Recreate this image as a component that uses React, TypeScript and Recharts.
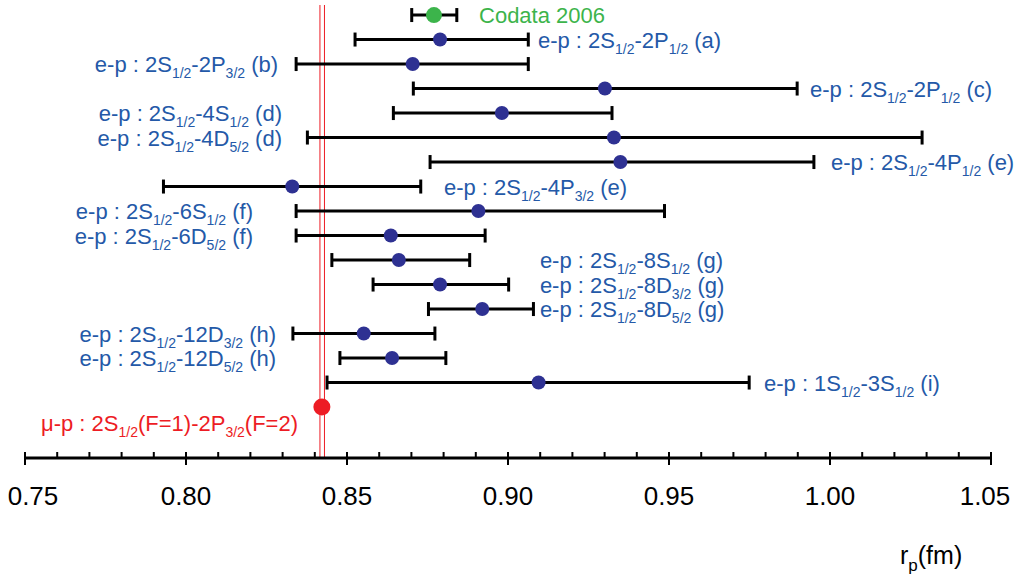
import React from "react";
import { ScatterChart, Scatter, XAxis, YAxis, ErrorBar, ReferenceLine } from "recharts";

// x axis (fm)
const majorTicks = [0.75, 0.8, 0.85, 0.9, 0.95, 1.0, 1.05];
const allTicks = Array.from({ length: 31 }, (_, i) => Math.round((0.75 + i * 0.01) * 100) / 100);

// CODATA 2006
const codataNames = ["Codata 2006"];
const codataValue = [0.877];
const codataLow = [0.8701];
const codataHigh = [0.8841];

// e-p measurements, top to bottom
const epNames = [
  "e-p : 2S_{1/2}-2P_{1/2} (a)",
  "e-p : 2S_{1/2}-2P_{3/2} (b)",
  "e-p : 2S_{1/2}-2P_{1/2} (c)",
  "e-p : 2S_{1/2}-4S_{1/2} (d)",
  "e-p : 2S_{1/2}-4D_{5/2} (d)",
  "e-p : 2S_{1/2}-4P_{1/2} (e)",
  "e-p : 2S_{1/2}-4P_{3/2} (e)",
  "e-p : 2S_{1/2}-6S_{1/2} (f)",
  "e-p : 2S_{1/2}-6D_{5/2} (f)",
  "e-p : 2S_{1/2}-8S_{1/2} (g)",
  "e-p : 2S_{1/2}-8D_{3/2} (g)",
  "e-p : 2S_{1/2}-8D_{5/2} (g)",
  "e-p : 2S_{1/2}-12D_{3/2} (h)",
  "e-p : 2S_{1/2}-12D_{5/2} (h)",
  "e-p : 1S_{1/2}-3S_{1/2} (i)",
];
const epValue = [0.8789, 0.8704, 0.9301, 0.8981, 0.9329, 0.9349, 0.833, 0.8908, 0.8636, 0.8661, 0.8789, 0.892, 0.8552, 0.864, 0.9095];
const epLow = [0.8525, 0.8342, 0.8706, 0.8644, 0.8377, 0.8758, 0.793, 0.8342, 0.8342, 0.8453, 0.8581, 0.8753, 0.8332, 0.8478, 0.8438];
const epHigh = [0.9063, 0.9063, 0.9898, 0.9323, 1.0286, 0.995, 0.8729, 0.9486, 0.8929, 0.8881, 0.9002, 0.9079, 0.8773, 0.8807, 0.9749];

// muonic hydrogen
const muNames = ["\u03bc-p : 2S_{1/2}(F=1)-2P_{3/2}(F=2)"];
const muValue = [0.8422];
const muBand = [0.8416, 0.843];

// where each label sits (fm), "L" = right-aligned ending there, "R" = starting there
const codataLabelAt = [0.891];
const epLabelAt = [0.9093, 0.8286, 0.9938, 0.8298, 0.8298, 1.0003, 0.8801, 0.8208, 0.8208, 0.9099, 0.9099, 0.9099, 0.828, 0.828, 0.9795];
const epLabelSide = ["R", "L", "R", "L", "L", "R", "R", "L", "L", "R", "R", "R", "L", "L", "R"];
const muLabelAt = [0.8348];

const BLUE_DOT = "#2e3192";
const BLUE_TEXT = "#2459a8";
const GREEN = "#3cb44b";
const RED = "#ed1c24";
const FONT = "'Liberation Sans', Arial, Helvetica, sans-serif";

const codataData = codataValue.map((v, i) => ({ x: v, y: 0, err: [v - codataLow[i], codataHigh[i] - v] }));
const epData = epValue.map((v, i) => ({ x: v, y: i + 1, err: [v - epLow[i], epHigh[i] - v] }));
const muData = muValue.map((v) => ({ x: v, y: 16 }));

const labelData = [
  ...codataNames.map((t, i) => ({ x: codataLabelAt[i], y: 0, text: t, side: "R", color: GREEN, dy: 0 })),
  ...epNames.map((t, i) => ({ x: epLabelAt[i], y: i + 1, text: t, side: epLabelSide[i], color: BLUE_TEXT, dy: 0 })),
  ...muNames.map((t, i) => ({ x: muLabelAt[i], y: 16, text: t, side: "L", color: RED, dy: 16 })),
];

function parts(text: string) {
  const out: { s: string; sub: boolean }[] = [];
  const re = /_\{([^}]*)\}/g;
  let last = 0;
  let m;
  while ((m = re.exec(text))) {
    if (m.index > last) out.push({ s: text.slice(last, m.index), sub: false });
    out.push({ s: m[1], sub: true });
    last = m.index + m[0].length;
  }
  if (last < text.length) out.push({ s: text.slice(last), sub: false });
  return out;
}

function RichText({ x, y, text, anchor, color, size, subSize }: any) {
  const ps = parts(text);
  let shifted = false;
  return (
    <text x={x} y={y} textAnchor={anchor} fill={color} fontSize={size} fontFamily={FONT}>
      {ps.map((p, i) => {
        let dy = 0;
        if (p.sub && !shifted) { dy = 6; shifted = true; }
        else if (!p.sub && shifted) { dy = -6; shifted = false; }
        return (
          <tspan key={i} dy={dy} fontSize={p.sub ? subSize : size}>
            {p.s}
          </tspan>
        );
      })}
    </text>
  );
}

const LabelShape = (props: any) => {
  const { cx, cy, payload } = props;
  return (
    <RichText
      x={cx}
      y={cy + 8 + payload.dy}
      text={payload.text}
      anchor={payload.side === "L" ? "end" : "start"}
      color={payload.color}
      size={22}
      subSize={14}
    />
  );
};

const dot = (color: string, r: number) => (props: any) => (
  <circle cx={props.cx} cy={props.cy} r={r} fill={color} />
);

function AxisTick(props: any) {
  const { x, y, payload } = props;
  const v = Math.round(payload.value * 100) / 100;
  const major = majorTicks.includes(v);
  // end labels sit a little inside the axis ends
  const nudge = v === majorTicks[0] ? 8 : v === majorTicks[majorTicks.length - 1] ? -6 : 0;
  return (
    <g>
      <line x1={x} x2={x} y1={y - 6} y2={major ? y + 7 : y} stroke="#000" strokeWidth={2} />
      {major && (
        <text x={x + nudge} y={y + 47} textAnchor="middle" fontSize={26} fontFamily={FONT} fill="#000">
          {v.toFixed(2)}
        </text>
      )}
    </g>
  );
}

function AxisTitle(props: any) {
  const vb = props.viewBox || { x: 25, y: 458, width: 966 };
  const x = vb.x + vb.width - 91;
  const y = vb.y + 106;
  return (
    <text x={x} y={y} fontSize={25} fontFamily={FONT} fill="#000">
      r<tspan fontSize={17} dy={7}>p</tspan>
      <tspan dy={-7}>(fm)</tspan>
    </text>
  );
}

export default function App() {
  return (
    <div style={{ position: "absolute", left: 0, top: 0, background: "#fff" }}>
      <ScatterChart width={1029} height={581} margin={{ top: 5, right: 38, left: 25, bottom: 0 }}>
        <XAxis
          type="number"
          dataKey="x"
          domain={[0.75, 1.05]}
          ticks={allTicks}
          interval={0}
          tick={<AxisTick />}
          tickLine={false}
          tickSize={0}
          tickMargin={0}
          axisLine={{ stroke: "#000", strokeWidth: 3 }}
          height={123}
          label={{ content: (p: any) => <AxisTitle {...p} /> }}
        />
        <YAxis type="number" dataKey="y" domain={[-0.41, 18.08]} reversed hide />
        <ReferenceLine x={muBand[0]} stroke={RED} strokeWidth={1} />
        <ReferenceLine x={muBand[1]} stroke={RED} strokeWidth={1} />
        <Scatter data={epData} shape={dot(BLUE_DOT, 7)} isAnimationActive={false}>
          <ErrorBar dataKey="err" direction="x" width={7} stroke="#000" strokeWidth={3} />
        </Scatter>
        <Scatter data={codataData} shape={dot(GREEN, 8)} isAnimationActive={false}>
          <ErrorBar dataKey="err" direction="x" width={7} stroke="#000" strokeWidth={3} />
        </Scatter>
        <Scatter data={muData} shape={dot(RED, 8.5)} isAnimationActive={false} />
        <Scatter data={labelData} shape={LabelShape} isAnimationActive={false} />
      </ScatterChart>
    </div>
  );
}
